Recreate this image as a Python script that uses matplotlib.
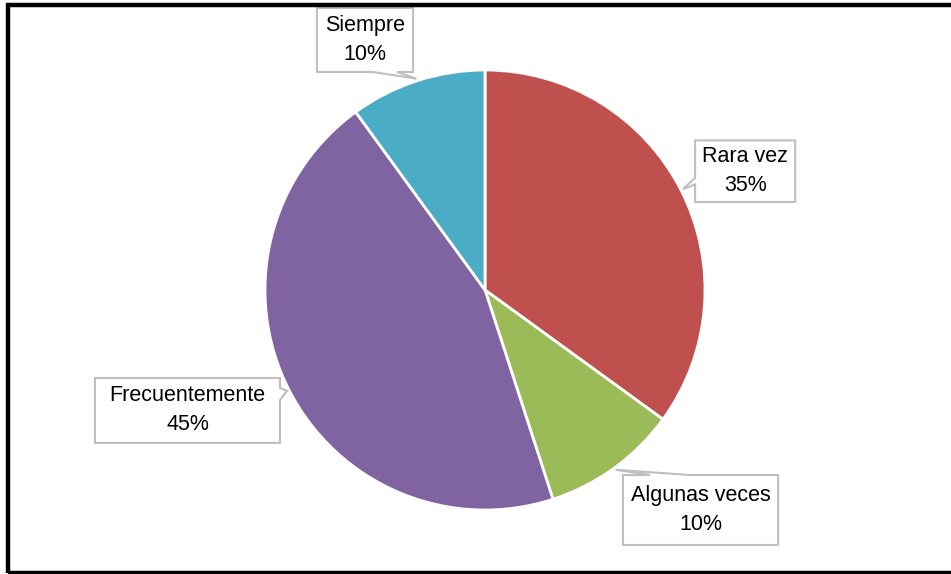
import numpy as np
import matplotlib
matplotlib.use("Agg")
import matplotlib.pyplot as plt
from matplotlib.patches import Polygon, Rectangle

categories = ["Rara vez", "Algunas veces", "Frecuentemente", "Siempre"]
values = [35, 10, 45, 10]
colors = ["#C0504D", "#9BBB59", "#8064A2", "#4BACC6"]

# callout boxes (x0, x1, y0, y1) in pie units, and which side the pointer leaves from
boxes = {
    "Rara vez": ((0.955, 1.41, 0.40, 0.68), "left", (0.48, 0.51)),
    "Algunas veces": ((0.627, 1.332, -1.159, -0.841), "top", (0.75, 0.93)),
    "Frecuentemente": ((-1.773, -0.932, -0.695, -0.40), "right", (-0.50, -0.445)),
    "Siempre": ((-0.764, -0.327, 0.991, 1.282), "bottom", (-0.51, -0.40)),
}

plt.rcParams['font.family'] = ['Liberation Sans', 'DejaVu Sans']

W, H = 951, 574
fig = plt.figure(figsize=(W / 100, H / 100), dpi=100)
cx, cy, R = 485, 290, 220
ax = fig.add_axes([(cx - R) / W, (H - cy - R) / H, 2 * R / W, 2 * R / H])

wedges, _ = ax.pie(values, colors=colors, startangle=90, counterclock=False,
                   radius=1, wedgeprops=dict(edgecolor="white", linewidth=2))
ax.set_xlim(-1, 1)
ax.set_ylim(-1, 1)
ax.set_aspect("equal")
ax.axis("off")


def callout(ax, box, side, base, tip):
    x0, x1, y0, y1 = box
    b0, b1 = base
    if side == "left":
        pts = [(x0, y0), (x1, y0), (x1, y1), (x0, y1), (x0, b1), tip, (x0, b0)]
    elif side == "right":
        pts = [(x0, y0), (x1, y0), (x1, b0), tip, (x1, b1), (x1, y1), (x0, y1)]
    elif side == "top":
        pts = [(x0, y0), (x1, y0), (x1, y1), (b1, y1), tip, (b0, y1), (x0, y1)]
    else:
        pts = [(x0, y0), (b0, y0), tip, (b1, y0), (x1, y0), (x1, y1), (x0, y1)]
    ax.add_patch(Polygon(pts, closed=True, facecolor="white", edgecolor="#BFBFBF",
                         linewidth=1.5, clip_on=False, zorder=5))


total = sum(values)
for w, cat, val in zip(wedges, categories, values):
    mid = np.deg2rad((w.theta1 + w.theta2) / 2)
    tip = (1.01 * np.cos(mid), 1.01 * np.sin(mid))
    box, side, base = boxes[cat]
    callout(ax, box, side, base, tip)
    ax.text((box[0] + box[1]) / 2, (box[2] + box[3]) / 2,
            f"{cat}\n{val / total * 100:.0f}%", ha="center", va="center",
            fontsize=15.5, linespacing=1.5, zorder=6, color="black")

# outer chart border
fig.patches.append(Rectangle((7.5 / W, 1.5 / H), 1.2, (H - 6.5) / H, transform=fig.transFigure,
                             fill=False, edgecolor="black", linewidth=3.2))

fig.savefig("out.png", dpi=100)
